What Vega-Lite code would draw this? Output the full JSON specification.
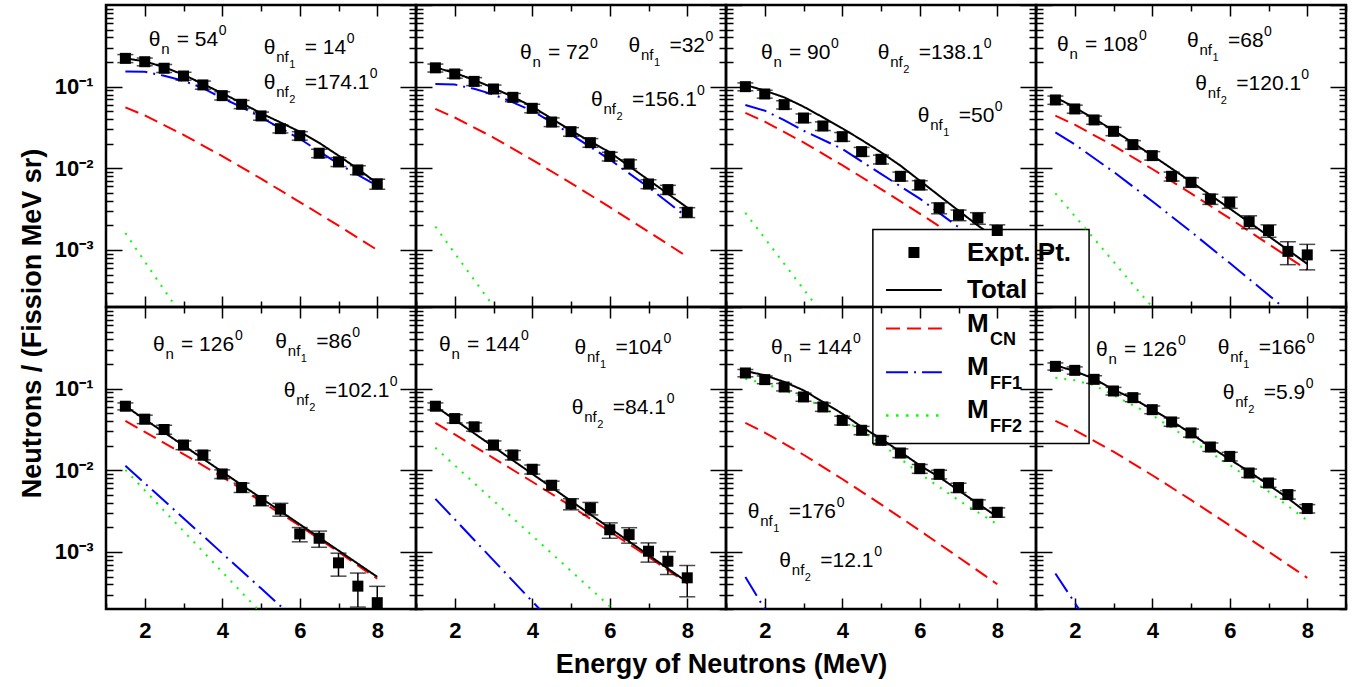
{
"$schema":"https://vega.github.io/schema/vega-lite/v6.json",
"background":"white",
"padding":{"left":16,"top":3,"right":5,"bottom":5},
"config":{
 "view":{"stroke":"black","strokeWidth":2.5},
 "text":{"font":"Liberation Sans","fontSize":21,"align":"left","baseline":"alphabetic","color":"black"},
 "axis":{"domain":false,"grid":false,"labelColor":"black","labelFont":"Liberation Sans","labelFontWeight":"bold","titleFont":"Liberation Sans","titleFontWeight":"bold","titleFontSize":27,"titleColor":"black","labelOverlap":false,"labelBound":false,"labelFlush":false}
},
"datasets":{
"pts":[
{"p":1,"E":1.5,"v":0.222,"e":0.025},{"p":1,"E":2,"v":0.202,"e":0.022},{"p":1,"E":2.5,"v":0.168,"e":0.019},{"p":1,"E":3,"v":0.135,"e":0.015},{"p":1,"E":3.5,"v":0.105,"e":0.012},{"p":1,"E":4,"v":0.0776,"e":0.009},{"p":1,"E":4.5,"v":0.0608,"e":0.007},{"p":1,"E":5,"v":0.0438,"e":0.005},{"p":1,"E":5.5,"v":0.0306,"e":0.0035},{"p":1,"E":6,"v":0.0251,"e":0.003},{"p":1,"E":6.5,"v":0.0153,"e":0.0018},{"p":1,"E":7,"v":0.012,"e":0.0015},{"p":1,"E":7.5,"v":0.00955,"e":0.0012},{"p":1,"E":8,"v":0.00644,"e":0.0009},
{"p":2,"E":1.5,"v":0.17,"e":0.019},{"p":2,"E":2,"v":0.143,"e":0.016},{"p":2,"E":2.5,"v":0.116,"e":0.013},{"p":2,"E":3,"v":0.0936,"e":0.011},{"p":2,"E":3.5,"v":0.074,"e":0.0085},{"p":2,"E":4,"v":0.0543,"e":0.0065},{"p":2,"E":4.5,"v":0.0369,"e":0.0045},{"p":2,"E":5,"v":0.0281,"e":0.0034},{"p":2,"E":5.5,"v":0.0206,"e":0.0025},{"p":2,"E":6,"v":0.014,"e":0.0017},{"p":2,"E":6.5,"v":0.0113,"e":0.0014},{"p":2,"E":7,"v":0.00643,"e":0.0008},{"p":2,"E":7.5,"v":0.00548,"e":0.0007},{"p":2,"E":8,"v":0.00289,"e":0.0004},
{"p":3,"E":1.5,"v":0.1,"e":0.011},{"p":3,"E":2,"v":0.0813,"e":0.009},{"p":3,"E":2.5,"v":0.0602,"e":0.007},{"p":3,"E":3,"v":0.0413,"e":0.005},{"p":3,"E":3.5,"v":0.033,"e":0.004},{"p":3,"E":4,"v":0.0244,"e":0.003},{"p":3,"E":4.5,"v":0.016,"e":0.002},{"p":3,"E":5,"v":0.0129,"e":0.0016},{"p":3,"E":5.5,"v":0.00798,"e":0.001},{"p":3,"E":6,"v":0.00625,"e":0.0008},{"p":3,"E":6.5,"v":0.00327,"e":0.0005},{"p":3,"E":7,"v":0.00268,"e":0.0004},{"p":3,"E":7.5,"v":0.00246,"e":0.0004},{"p":3,"E":8,"v":0.00173,"e":0.0003},
{"p":4,"E":1.5,"v":0.0687,"e":0.008},{"p":4,"E":2,"v":0.0533,"e":0.006},{"p":4,"E":2.5,"v":0.0391,"e":0.0045},{"p":4,"E":3,"v":0.0284,"e":0.0033},{"p":4,"E":3.5,"v":0.0195,"e":0.0023},{"p":4,"E":4,"v":0.0143,"e":0.0017},{"p":4,"E":4.5,"v":0.00798,"e":0.001},{"p":4,"E":5,"v":0.00674,"e":0.0009},{"p":4,"E":5.5,"v":0.00421,"e":0.0006},{"p":4,"E":6,"v":0.00383,"e":0.0006},{"p":4,"E":6.5,"v":0.00222,"e":0.0004},{"p":4,"E":7,"v":0.00173,"e":0.0003},{"p":4,"E":7.5,"v":0.00096,"e":0.0003},{"p":4,"E":8,"v":0.00087,"e":0.0003},
{"p":5,"E":1.5,"v":0.0609,"e":0.006},{"p":5,"E":2,"v":0.0423,"e":0.005},{"p":5,"E":2.5,"v":0.0316,"e":0.004},{"p":5,"E":3,"v":0.0204,"e":0.0025},{"p":5,"E":3.5,"v":0.0154,"e":0.002},{"p":5,"E":4,"v":0.00902,"e":0.0011},{"p":5,"E":4.5,"v":0.00615,"e":0.0008},{"p":5,"E":5,"v":0.00427,"e":0.0006},{"p":5,"E":5.5,"v":0.00334,"e":0.0006},{"p":5,"E":6,"v":0.00166,"e":0.00033},{"p":5,"E":6.5,"v":0.00147,"e":0.00033},{"p":5,"E":7,"v":0.000735,"e":0.00023},{"p":5,"E":7.5,"v":0.000381,"e":0.00017},{"p":5,"E":8,"v":0.000239,"e":0.00014},
{"p":6,"E":1.5,"v":0.0609,"e":0.006},{"p":6,"E":2,"v":0.043,"e":0.005},{"p":6,"E":2.5,"v":0.0341,"e":0.004},{"p":6,"E":3,"v":0.0204,"e":0.0025},{"p":6,"E":3.5,"v":0.0154,"e":0.002},{"p":6,"E":4,"v":0.0103,"e":0.0013},{"p":6,"E":4.5,"v":0.00656,"e":0.0008},{"p":6,"E":5,"v":0.00388,"e":0.0006},{"p":6,"E":5.5,"v":0.00344,"e":0.0006},{"p":6,"E":6,"v":0.00187,"e":0.0004},{"p":6,"E":6.5,"v":0.00163,"e":0.00035},{"p":6,"E":7,"v":0.00102,"e":0.00027},{"p":6,"E":7.5,"v":0.000769,"e":0.00024},{"p":6,"E":8,"v":0.000482,"e":0.0002},
{"p":7,"E":1.5,"v":0.1556,"e":0.016},{"p":7,"E":2,"v":0.129,"e":0.014},{"p":7,"E":2.5,"v":0.1048,"e":0.011},{"p":7,"E":3,"v":0.0791,"e":0.009},{"p":7,"E":3.5,"v":0.0597,"e":0.007},{"p":7,"E":4,"v":0.0409,"e":0.005},{"p":7,"E":4.5,"v":0.0309,"e":0.0036},{"p":7,"E":5,"v":0.0233,"e":0.0027},{"p":7,"E":5.5,"v":0.0163,"e":0.002},{"p":7,"E":6,"v":0.01048,"e":0.0013},{"p":7,"E":6.5,"v":0.00893,"e":0.0011},{"p":7,"E":7,"v":0.00614,"e":0.0008},{"p":7,"E":7.5,"v":0.00384,"e":0.0005},{"p":7,"E":8,"v":0.00306,"e":0.0004},
{"p":8,"E":1.5,"v":0.1875,"e":0.019},{"p":8,"E":2,"v":0.1675,"e":0.017},{"p":8,"E":2.5,"v":0.13,"e":0.014},{"p":8,"E":3,"v":0.0936,"e":0.01},{"p":8,"E":3.5,"v":0.0776,"e":0.0085},{"p":8,"E":4,"v":0.0553,"e":0.006},{"p":8,"E":4.5,"v":0.0391,"e":0.0045},{"p":8,"E":5,"v":0.0287,"e":0.0033},{"p":8,"E":5.5,"v":0.0193,"e":0.0023},{"p":8,"E":6,"v":0.0148,"e":0.0018},{"p":8,"E":6.5,"v":0.00927,"e":0.0011},{"p":8,"E":7,"v":0.00699,"e":0.0008},{"p":8,"E":7.5,"v":0.00504,"e":0.0006},{"p":8,"E":8,"v":0.0034,"e":0.0004}
],
"cur":[
{"p":1,"c":"F2","E":1.5,"v":0.00161},{"p":1,"c":"F2","E":2,"v":0.00072},{"p":1,"c":"F2","E":2.5,"v":0.000325},{"p":1,"c":"F2","E":3,"v":0.000147},
{"p":1,"c":"F1","E":1.5,"v":0.153},{"p":1,"c":"F1","E":2,"v":0.152},{"p":1,"c":"F1","E":2.5,"v":0.136},{"p":1,"c":"F1","E":3,"v":0.118},{"p":1,"c":"F1","E":3.5,"v":0.096},{"p":1,"c":"F1","E":4,"v":0.0725},{"p":1,"c":"F1","E":4.5,"v":0.056},{"p":1,"c":"F1","E":5,"v":0.0421},{"p":1,"c":"F1","E":6,"v":0.023},{"p":1,"c":"F1","E":7,"v":0.0113},{"p":1,"c":"F1","E":8,"v":0.0061},
{"p":1,"c":"CN","E":1.5,"v":0.0558},{"p":1,"c":"CN","E":2,"v":0.0444},{"p":1,"c":"CN","E":3,"v":0.0257},{"p":1,"c":"CN","E":4,"v":0.0141},{"p":1,"c":"CN","E":5,"v":0.00745},{"p":1,"c":"CN","E":6,"v":0.00386},{"p":1,"c":"CN","E":7,"v":0.00198},{"p":1,"c":"CN","E":8,"v":0.001},
{"p":1,"c":"T","E":1.5,"v":0.222},{"p":1,"c":"T","E":2,"v":0.204},{"p":1,"c":"T","E":2.5,"v":0.173},{"p":1,"c":"T","E":3,"v":0.14},{"p":1,"c":"T","E":3.5,"v":0.108},{"p":1,"c":"T","E":4,"v":0.083},{"p":1,"c":"T","E":4.5,"v":0.063},{"p":1,"c":"T","E":5,"v":0.0472},{"p":1,"c":"T","E":5.5,"v":0.0365},{"p":1,"c":"T","E":6,"v":0.0281},{"p":1,"c":"T","E":6.5,"v":0.0205},{"p":1,"c":"T","E":7,"v":0.0143},{"p":1,"c":"T","E":7.5,"v":0.0098},{"p":1,"c":"T","E":8,"v":0.00655},
{"p":2,"c":"F2","E":1.5,"v":0.00193},{"p":2,"c":"F2","E":2,"v":0.00091},{"p":2,"c":"F2","E":2.5,"v":0.00043},{"p":2,"c":"F2","E":3,"v":0.000204},{"p":2,"c":"F2","E":3.5,"v":0.0000955},
{"p":2,"c":"F1","E":1.5,"v":0.108},{"p":2,"c":"F1","E":2,"v":0.106},{"p":2,"c":"F1","E":2.5,"v":0.094},{"p":2,"c":"F1","E":3,"v":0.08},{"p":2,"c":"F1","E":3.5,"v":0.0643},{"p":2,"c":"F1","E":4,"v":0.0505},{"p":2,"c":"F1","E":4.5,"v":0.0366},{"p":2,"c":"F1","E":5,"v":0.026},{"p":2,"c":"F1","E":6,"v":0.0128},{"p":2,"c":"F1","E":7,"v":0.00585},{"p":2,"c":"F1","E":8,"v":0.00251},
{"p":2,"c":"CN","E":1.5,"v":0.0533},{"p":2,"c":"CN","E":2,"v":0.0419},{"p":2,"c":"CN","E":3,"v":0.0238},{"p":2,"c":"CN","E":4,"v":0.0127},{"p":2,"c":"CN","E":5,"v":0.00659},{"p":2,"c":"CN","E":6,"v":0.00334},{"p":2,"c":"CN","E":7,"v":0.00167},{"p":2,"c":"CN","E":8,"v":0.000828},
{"p":2,"c":"T","E":1.5,"v":0.172},{"p":2,"c":"T","E":2,"v":0.147},{"p":2,"c":"T","E":2.5,"v":0.121},{"p":2,"c":"T","E":3,"v":0.096},{"p":2,"c":"T","E":3.5,"v":0.075},{"p":2,"c":"T","E":4,"v":0.0569},{"p":2,"c":"T","E":5,"v":0.029},{"p":2,"c":"T","E":6,"v":0.0157},{"p":2,"c":"T","E":7,"v":0.0072},{"p":2,"c":"T","E":8,"v":0.0033},
{"p":3,"c":"F2","E":1.5,"v":0.00284},{"p":3,"c":"F2","E":2,"v":0.00139},{"p":3,"c":"F2","E":2.5,"v":0.000678},{"p":3,"c":"F2","E":3,"v":0.000331},{"p":3,"c":"F2","E":3.5,"v":0.000162},
{"p":3,"c":"F1","E":1.5,"v":0.0597},{"p":3,"c":"F1","E":2,"v":0.0508},{"p":3,"c":"F1","E":2.5,"v":0.039},{"p":3,"c":"F1","E":3,"v":0.0289},{"p":3,"c":"F1","E":4,"v":0.0173},{"p":3,"c":"F1","E":5,"v":0.00853},{"p":3,"c":"F1","E":6,"v":0.00425},{"p":3,"c":"F1","E":7,"v":0.0019},{"p":3,"c":"F1","E":8,"v":0.00085},
{"p":3,"c":"CN","E":1.5,"v":0.0477},{"p":3,"c":"CN","E":2,"v":0.0372},{"p":3,"c":"CN","E":3,"v":0.0208},{"p":3,"c":"CN","E":4,"v":0.0109},{"p":3,"c":"CN","E":5,"v":0.00557},{"p":3,"c":"CN","E":6,"v":0.00279},{"p":3,"c":"CN","E":7,"v":0.00137},{"p":3,"c":"CN","E":8,"v":0.00067},
{"p":3,"c":"T","E":1.5,"v":0.105},{"p":3,"c":"T","E":2,"v":0.0894},{"p":3,"c":"T","E":2.5,"v":0.074},{"p":3,"c":"T","E":3,"v":0.0569},{"p":3,"c":"T","E":3.5,"v":0.0421},{"p":3,"c":"T","E":4,"v":0.0309},{"p":3,"c":"T","E":4.5,"v":0.0222},{"p":3,"c":"T","E":5,"v":0.0157},{"p":3,"c":"T","E":5.5,"v":0.0108},{"p":3,"c":"T","E":6,"v":0.00706},{"p":3,"c":"T","E":6.5,"v":0.00462},{"p":3,"c":"T","E":7,"v":0.00303},{"p":3,"c":"T","E":7.5,"v":0.00199},{"p":3,"c":"T","E":8,"v":0.00136},
{"p":4,"c":"F2","E":1.5,"v":0.00494},{"p":4,"c":"F2","E":2,"v":0.0026},{"p":4,"c":"F2","E":2.5,"v":0.00137},{"p":4,"c":"F2","E":3,"v":0.000718},{"p":4,"c":"F2","E":3.5,"v":0.000377},{"p":4,"c":"F2","E":4,"v":0.0002},{"p":4,"c":"F2","E":4.5,"v":0.000105},
{"p":4,"c":"F1","E":1.5,"v":0.0276},{"p":4,"c":"F1","E":2,"v":0.0196},{"p":4,"c":"F1","E":3,"v":0.00906},{"p":4,"c":"F1","E":4,"v":0.00395},{"p":4,"c":"F1","E":5,"v":0.00167},{"p":4,"c":"F1","E":6,"v":0.00069},{"p":4,"c":"F1","E":7,"v":0.000281},{"p":4,"c":"F1","E":8,"v":0.000113},
{"p":4,"c":"CN","E":1.5,"v":0.0442},{"p":4,"c":"CN","E":2,"v":0.0342},{"p":4,"c":"CN","E":3,"v":0.0189},{"p":4,"c":"CN","E":4,"v":0.0098},{"p":4,"c":"CN","E":5,"v":0.00493},{"p":4,"c":"CN","E":6,"v":0.00243},{"p":4,"c":"CN","E":7,"v":0.00118},{"p":4,"c":"CN","E":8,"v":0.000569},
{"p":4,"c":"T","E":1.5,"v":0.074},{"p":4,"c":"T","E":2,"v":0.0558},{"p":4,"c":"T","E":3,"v":0.0292},{"p":4,"c":"T","E":4,"v":0.01437},{"p":4,"c":"T","E":5,"v":0.00686},{"p":4,"c":"T","E":6,"v":0.00321},{"p":4,"c":"T","E":7,"v":0.00148},{"p":4,"c":"T","E":8,"v":0.000675},
{"p":5,"c":"F2","E":1.5,"v":0.0101},{"p":5,"c":"F2","E":2,"v":0.00568},{"p":5,"c":"F2","E":3,"v":0.0018},{"p":5,"c":"F2","E":4,"v":0.000569},{"p":5,"c":"F2","E":5,"v":0.00018},
{"p":5,"c":"F1","E":1.5,"v":0.0114},{"p":5,"c":"F1","E":2,"v":0.00695},{"p":5,"c":"F1","E":3,"v":0.00259},{"p":5,"c":"F1","E":4,"v":0.000962},{"p":5,"c":"F1","E":5,"v":0.000358},{"p":5,"c":"F1","E":6,"v":0.000133},
{"p":5,"c":"CN","E":1.5,"v":0.0404},{"p":5,"c":"CN","E":2,"v":0.0295},{"p":5,"c":"CN","E":3,"v":0.0158},{"p":5,"c":"CN","E":4,"v":0.00832},{"p":5,"c":"CN","E":5,"v":0.00417},{"p":5,"c":"CN","E":6,"v":0.00209},{"p":5,"c":"CN","E":7,"v":0.001},{"p":5,"c":"CN","E":8,"v":0.000469},
{"p":5,"c":"T","E":1.5,"v":0.0609},{"p":5,"c":"T","E":2,"v":0.0421},{"p":5,"c":"T","E":3,"v":0.0201},{"p":5,"c":"T","E":4,"v":0.00957},{"p":5,"c":"T","E":5,"v":0.00457},{"p":5,"c":"T","E":6,"v":0.00218},{"p":5,"c":"T","E":7,"v":0.00104},{"p":5,"c":"T","E":8,"v":0.000495},
{"p":6,"c":"F2","E":1.5,"v":0.0189},{"p":6,"c":"F2","E":2,"v":0.0115},{"p":6,"c":"F2","E":3,"v":0.00425},{"p":6,"c":"F2","E":4,"v":0.00158},{"p":6,"c":"F2","E":5,"v":0.000584},{"p":6,"c":"F2","E":6,"v":0.000216},{"p":6,"c":"F2","E":6.5,"v":0.000132},
{"p":6,"c":"F1","E":1.5,"v":0.00447},{"p":6,"c":"F1","E":2,"v":0.00251},{"p":6,"c":"F1","E":3,"v":0.000789},{"p":6,"c":"F1","E":4,"v":0.000248},{"p":6,"c":"F1","E":4.5,"v":0.000139},
{"p":6,"c":"CN","E":1.5,"v":0.0381},{"p":6,"c":"CN","E":2,"v":0.0275},{"p":6,"c":"CN","E":3,"v":0.0141},{"p":6,"c":"CN","E":4,"v":0.00724},{"p":6,"c":"CN","E":5,"v":0.00363},{"p":6,"c":"CN","E":6,"v":0.00178},{"p":6,"c":"CN","E":7,"v":0.00087},{"p":6,"c":"CN","E":8,"v":0.000411},
{"p":6,"c":"T","E":1.5,"v":0.0609},{"p":6,"c":"T","E":2,"v":0.0416},{"p":6,"c":"T","E":3,"v":0.0194},{"p":6,"c":"T","E":4,"v":0.00904},{"p":6,"c":"T","E":5,"v":0.00421},{"p":6,"c":"T","E":6,"v":0.00196},{"p":6,"c":"T","E":7,"v":0.000916},{"p":6,"c":"T","E":8,"v":0.000427},
{"p":7,"c":"F1","E":1.5,"v":0.000494},{"p":7,"c":"F1","E":2,"v":0.0002},{"p":7,"c":"F1","E":2.5,"v":0.000081},
{"p":7,"c":"CN","E":1.5,"v":0.038},{"p":7,"c":"CN","E":2,"v":0.029},{"p":7,"c":"CN","E":3,"v":0.0155},{"p":7,"c":"CN","E":4,"v":0.00782},{"p":7,"c":"CN","E":5,"v":0.00382},{"p":7,"c":"CN","E":6,"v":0.00183},{"p":7,"c":"CN","E":7,"v":0.000861},{"p":7,"c":"CN","E":8,"v":0.000402},
{"p":7,"c":"F2","E":1.5,"v":0.132},{"p":7,"c":"F2","E":2,"v":0.115},{"p":7,"c":"F2","E":3,"v":0.079},{"p":7,"c":"F2","E":4,"v":0.043},{"p":7,"c":"F2","E":5,"v":0.0212},{"p":7,"c":"F2","E":6,"v":0.0091},{"p":7,"c":"F2","E":7,"v":0.0043},{"p":7,"c":"F2","E":8,"v":0.00218},
{"p":7,"c":"T","E":1.5,"v":0.164},{"p":7,"c":"T","E":2,"v":0.146},{"p":7,"c":"T","E":2.5,"v":0.121},{"p":7,"c":"T","E":3,"v":0.0955},{"p":7,"c":"T","E":3.5,"v":0.0687},{"p":7,"c":"T","E":4,"v":0.0494},{"p":7,"c":"T","E":4.5,"v":0.034},{"p":7,"c":"T","E":5,"v":0.0244},{"p":7,"c":"T","E":5.5,"v":0.0168},{"p":7,"c":"T","E":6,"v":0.0115},{"p":7,"c":"T","E":6.5,"v":0.00828},{"p":7,"c":"T","E":7,"v":0.00569},{"p":7,"c":"T","E":7.5,"v":0.00391},{"p":7,"c":"T","E":8,"v":0.00269},
{"p":8,"c":"F1","E":1.5,"v":0.000544},{"p":8,"c":"F1","E":2,"v":0.000238},{"p":8,"c":"F1","E":2.5,"v":0.000105},
{"p":8,"c":"CN","E":1.5,"v":0.0404},{"p":8,"c":"CN","E":2,"v":0.0311},{"p":8,"c":"CN","E":3,"v":0.0169},{"p":8,"c":"CN","E":4,"v":0.0087},{"p":8,"c":"CN","E":5,"v":0.00433},{"p":8,"c":"CN","E":6,"v":0.00211},{"p":8,"c":"CN","E":7,"v":0.00101},{"p":8,"c":"CN","E":8,"v":0.000482},
{"p":8,"c":"F2","E":1.5,"v":0.136},{"p":8,"c":"F2","E":2,"v":0.1264},{"p":8,"c":"F2","E":2.5,"v":0.11},{"p":8,"c":"F2","E":3,"v":0.083},{"p":8,"c":"F2","E":4,"v":0.0473},{"p":8,"c":"F2","E":5,"v":0.0234},{"p":8,"c":"F2","E":6,"v":0.0116},{"p":8,"c":"F2","E":7,"v":0.0055},{"p":8,"c":"F2","E":8,"v":0.00243},
{"p":8,"c":"T","E":1.5,"v":0.193},{"p":8,"c":"T","E":2,"v":0.164},{"p":8,"c":"T","E":2.5,"v":0.132},{"p":8,"c":"T","E":3,"v":0.0973},{"p":8,"c":"T","E":3.5,"v":0.0755},{"p":8,"c":"T","E":4,"v":0.0554},{"p":8,"c":"T","E":4.5,"v":0.0403},{"p":8,"c":"T","E":5,"v":0.0282},{"p":8,"c":"T","E":5.5,"v":0.0194},{"p":8,"c":"T","E":6,"v":0.0136},{"p":8,"c":"T","E":6.5,"v":0.00964},{"p":8,"c":"T","E":7,"v":0.00662},{"p":8,"c":"T","E":7.5,"v":0.00456},{"p":8,"c":"T","E":8,"v":0.00299}
]},
"columns":4,"spacing":0,"bounds":"flush",
"concat":[
{"width":310,"height":302,"resolve":{"axis":{"x":"independent","y":"independent"}},"layer":[
 {"data":{"name":"cur"},"transform":[{"filter":"datum.p==1"}],"mark":{"type":"line","strokeWidth":2,"clip":true},
  "encoding":{"x":{"field":"E","type":"quantitative","scale":{"domain":[1,9],"nice":false,"zero":false},"axis":{"tickColor":"black","tickOpacity":1,"tickWidth":1.5,"values":[1,2,3,4,5,6,7,8,9],"tickSize":{"condition":{"test":"datum.value%2==0","value":-11},"value":-6},"labels":false,"title":null}},
   "y":{"field":"v","type":"quantitative","scale":{"type":"log","domain":[0.0002,1],"nice":false},"axis":{"tickColor":"black","tickOpacity":1,"tickWidth":1.5,"values":[0.0003,0.0004,0.0005,0.0006,0.0007,0.0008,0.0009,0.001,0.002,0.003,0.004,0.005,0.006,0.007,0.008,0.009,0.01,0.02,0.03,0.04,0.05,0.06,0.07,0.08,0.09,0.1,0.2,0.3,0.4,0.5,0.6,0.7,0.8,0.9],"tickSize":{"condition":{"test":"datum.value==0.001||datum.value==0.01||datum.value==0.1||datum.value==1","value":-16},"value":-7},"labelExpr":"datum.value==0.1?'10⁻¹':datum.value==0.01?'10⁻²':datum.value==0.001?'10⁻³':''","labelPadding":29,"labelFontSize":{"condition":{"test":"datum.value==0.001||datum.value==0.01||datum.value==0.1","value":22},"value":0},"title":"Neutrons / (Fission MeV sr)","titleX":-74,"titleY":318,"titleAngle":-90,"titleAlign":"center","titleBaseline":"middle"}},
   "color":{"field":"c","type":"nominal","scale":{"domain":["F2","F1","CN","T"],"range":["#00ff00","#0000ff","#ff0000","#000000"]},"legend":null},
   "strokeDash":{"field":"c","type":"nominal","scale":{"domain":["F2","F1","CN","T"],"range":[[2,7],[22,6,2,6],[14,7],[1,0]]},"legend":null}}},
 {"data":{"name":"pts"},"transform":[{"filter":"datum.p==1"}],"mark":{"type":"errorbar","color":"black","ticks":true,"size":16,"thickness":1.5},
  "encoding":{"x":{"field":"E","type":"quantitative","axis":null},"y":{"field":"v","type":"quantitative","axis":null},"yError":{"field":"e"}}},
 {"data":{"values":[{}]},"layer":[
  {"encoding":{"x":{"datum":2.1,"axis":null},"y":{"datum":0.318,"axis":null}},"layer":[{"mark":{"type":"text","text":"θ"}},{"mark":{"type":"text","text":"n","fontSize":15,"dx":12.5,"dy":8}},{"mark":{"type":"text","text":"= 54","dx":28}},{"mark":{"type":"text","text":"0","fontSize":14,"dx":70,"dy":-11}}]},
  {"encoding":{"x":{"datum":5.07,"axis":null},"y":{"datum":0.251,"axis":null}},"layer":[{"mark":{"type":"text","text":"θ"}},{"mark":{"type":"text","text":"nf","fontSize":15,"dx":12.5,"dy":8}},{"mark":{"type":"text","text":"1","fontSize":11,"dx":25.5,"dy":14}},{"mark":{"type":"text","text":"= 14","dx":41}},{"mark":{"type":"text","text":"0","fontSize":14,"dx":83,"dy":-11}}]},
  {"encoding":{"x":{"datum":5.07,"axis":null},"y":{"datum":0.0937,"axis":null}},"layer":[{"mark":{"type":"text","text":"θ"}},{"mark":{"type":"text","text":"nf","fontSize":15,"dx":12.5,"dy":8}},{"mark":{"type":"text","text":"2","fontSize":11,"dx":25.5,"dy":14}},{"mark":{"type":"text","text":"=174.1","dx":41}},{"mark":{"type":"text","text":"0","fontSize":14,"dx":106,"dy":-11}}]}
 ]},
 {"data":{"name":"pts"},"transform":[{"filter":"datum.p==1"}],"mark":{"type":"point","shape":"square","filled":true,"color":"black","size":121,"opacity":1},
  "encoding":{"x":{"field":"E","type":"quantitative","axis":{"tickColor":"black","tickOpacity":1,"tickWidth":1.5,"orient":"top","values":[1,2,3,4,5,6,7,8,9],"tickSize":{"condition":{"test":"datum.value%2==0","value":-11},"value":-6},"labels":false,"title":null}},
   "y":{"field":"v","type":"quantitative","axis":{"tickColor":"black","tickOpacity":1,"tickWidth":1.5,"orient":"right","values":[0.0002,0.0003,0.0004,0.0005,0.0006,0.0007,0.0008,0.0009,0.001,0.002,0.003,0.004,0.005,0.006,0.007,0.008,0.009,0.01,0.02,0.03,0.04,0.05,0.06,0.07,0.08,0.09,0.1,0.2,0.3,0.4,0.5,0.6,0.7,0.8,0.9,1],"tickSize":{"condition":{"test":"datum.value==0.001||datum.value==0.01||datum.value==0.1||datum.value==1","value":-16},"value":-7},"labels":false,"title":null}}}}
]},
{"width":310,"height":302,"resolve":{"axis":{"x":"independent","y":"independent"}},"layer":[
 {"data":{"name":"cur"},"transform":[{"filter":"datum.p==2"}],"mark":{"type":"line","strokeWidth":2,"clip":true},
  "encoding":{"x":{"field":"E","type":"quantitative","scale":{"domain":[1,9],"nice":false,"zero":false},"axis":{"tickColor":"black","tickOpacity":1,"tickWidth":1.5,"values":[1,2,3,4,5,6,7,8,9],"tickSize":{"condition":{"test":"datum.value%2==0","value":-11},"value":-6},"labels":false,"title":null}},
   "y":{"field":"v","type":"quantitative","scale":{"type":"log","domain":[0.0002,1],"nice":false},"axis":{"tickColor":"black","tickOpacity":1,"tickWidth":1.5,"values":[0.0002,0.0003,0.0004,0.0005,0.0006,0.0007,0.0008,0.0009,0.001,0.002,0.003,0.004,0.005,0.006,0.007,0.008,0.009,0.01,0.02,0.03,0.04,0.05,0.06,0.07,0.08,0.09,0.1,0.2,0.3,0.4,0.5,0.6,0.7,0.8,0.9,1],"tickSize":{"condition":{"test":"datum.value==0.001||datum.value==0.01||datum.value==0.1||datum.value==1","value":-16},"value":-7},"labels":false,"title":null}},
   "color":{"field":"c","type":"nominal","scale":{"domain":["F2","F1","CN","T"],"range":["#00ff00","#0000ff","#ff0000","#000000"]},"legend":null},
   "strokeDash":{"field":"c","type":"nominal","scale":{"domain":["F2","F1","CN","T"],"range":[[2,7],[22,6,2,6],[14,7],[1,0]]},"legend":null}}},
 {"data":{"name":"pts"},"transform":[{"filter":"datum.p==2"}],"mark":{"type":"errorbar","color":"black","ticks":true,"size":16,"thickness":1.5},
  "encoding":{"x":{"field":"E","type":"quantitative","axis":null},"y":{"field":"v","type":"quantitative","axis":null},"yError":{"field":"e"}}},
 {"data":{"values":[{}]},"layer":[
  {"encoding":{"x":{"datum":3.684,"axis":null},"y":{"datum":0.218,"axis":null}},"layer":[{"mark":{"type":"text","text":"θ"}},{"mark":{"type":"text","text":"n","fontSize":15,"dx":12.5,"dy":8}},{"mark":{"type":"text","text":"= 72","dx":28}},{"mark":{"type":"text","text":"0","fontSize":14,"dx":70,"dy":-11}}]},
  {"encoding":{"x":{"datum":6.481,"axis":null},"y":{"datum":0.263,"axis":null}},"layer":[{"mark":{"type":"text","text":"θ"}},{"mark":{"type":"text","text":"nf","fontSize":15,"dx":12.5,"dy":8}},{"mark":{"type":"text","text":"1","fontSize":11,"dx":25.5,"dy":14}},{"mark":{"type":"text","text":"=32","dx":41}},{"mark":{"type":"text","text":"0","fontSize":14,"dx":77,"dy":-11}}]},
  {"encoding":{"x":{"datum":5.516,"axis":null},"y":{"datum":0.0585,"axis":null}},"layer":[{"mark":{"type":"text","text":"θ"}},{"mark":{"type":"text","text":"nf","fontSize":15,"dx":12.5,"dy":8}},{"mark":{"type":"text","text":"2","fontSize":11,"dx":25.5,"dy":14}},{"mark":{"type":"text","text":"=156.1","dx":41}},{"mark":{"type":"text","text":"0","fontSize":14,"dx":106,"dy":-11}}]}
 ]},
 {"data":{"name":"pts"},"transform":[{"filter":"datum.p==2"}],"mark":{"type":"point","shape":"square","filled":true,"color":"black","size":121,"opacity":1},
  "encoding":{"x":{"field":"E","type":"quantitative","axis":{"tickColor":"black","tickOpacity":1,"tickWidth":1.5,"orient":"top","values":[1,2,3,4,5,6,7,8,9],"tickSize":{"condition":{"test":"datum.value%2==0","value":-11},"value":-6},"labels":false,"title":null}},
   "y":{"field":"v","type":"quantitative","axis":{"tickColor":"black","tickOpacity":1,"tickWidth":1.5,"orient":"right","values":[0.0002,0.0003,0.0004,0.0005,0.0006,0.0007,0.0008,0.0009,0.001,0.002,0.003,0.004,0.005,0.006,0.007,0.008,0.009,0.01,0.02,0.03,0.04,0.05,0.06,0.07,0.08,0.09,0.1,0.2,0.3,0.4,0.5,0.6,0.7,0.8,0.9,1],"tickSize":{"condition":{"test":"datum.value==0.001||datum.value==0.01||datum.value==0.1||datum.value==1","value":-16},"value":-7},"labels":false,"title":null}}}}
]},
{"width":310,"height":302,"resolve":{"axis":{"x":"independent","y":"independent"}},"layer":[
 {"data":{"name":"cur"},"transform":[{"filter":"datum.p==3"}],"mark":{"type":"line","strokeWidth":2,"clip":true},
  "encoding":{"x":{"field":"E","type":"quantitative","scale":{"domain":[1,9],"nice":false,"zero":false},"axis":{"tickColor":"black","tickOpacity":1,"tickWidth":1.5,"values":[1,2,3,4,5,6,7,8,9],"tickSize":{"condition":{"test":"datum.value%2==0","value":-11},"value":-6},"labels":false,"title":null}},
   "y":{"field":"v","type":"quantitative","scale":{"type":"log","domain":[0.0002,1],"nice":false},"axis":{"tickColor":"black","tickOpacity":1,"tickWidth":1.5,"values":[0.0002,0.0003,0.0004,0.0005,0.0006,0.0007,0.0008,0.0009,0.001,0.002,0.003,0.004,0.005,0.006,0.007,0.008,0.009,0.01,0.02,0.03,0.04,0.05,0.06,0.07,0.08,0.09,0.1,0.2,0.3,0.4,0.5,0.6,0.7,0.8,0.9,1],"tickSize":{"condition":{"test":"datum.value==0.001||datum.value==0.01||datum.value==0.1||datum.value==1","value":-16},"value":-7},"labels":false,"title":null}},
   "color":{"field":"c","type":"nominal","scale":{"domain":["F2","F1","CN","T"],"range":["#00ff00","#0000ff","#ff0000","#000000"]},"legend":null},
   "strokeDash":{"field":"c","type":"nominal","scale":{"domain":["F2","F1","CN","T"],"range":[[2,7],[22,6,2,6],[14,7],[1,0]]},"legend":null}}},
 {"data":{"name":"pts"},"transform":[{"filter":"datum.p==3"}],"mark":{"type":"errorbar","color":"black","ticks":true,"size":16,"thickness":1.5},
  "encoding":{"x":{"field":"E","type":"quantitative","axis":null},"y":{"field":"v","type":"quantitative","axis":null},"yError":{"field":"e"}}},
 {"data":{"values":[{}]},"layer":[
  {"encoding":{"x":{"datum":1.903,"axis":null},"y":{"datum":0.218,"axis":null}},"layer":[{"mark":{"type":"text","text":"θ"}},{"mark":{"type":"text","text":"n","fontSize":15,"dx":12.5,"dy":8}},{"mark":{"type":"text","text":"= 90","dx":28}},{"mark":{"type":"text","text":"0","fontSize":14,"dx":70,"dy":-11}}]},
  {"encoding":{"x":{"datum":4.914,"axis":null},"y":{"datum":0.218,"axis":null}},"layer":[{"mark":{"type":"text","text":"θ"}},{"mark":{"type":"text","text":"nf","fontSize":15,"dx":12.5,"dy":8}},{"mark":{"type":"text","text":"2","fontSize":11,"dx":25.5,"dy":14}},{"mark":{"type":"text","text":"=138.1","dx":41}},{"mark":{"type":"text","text":"0","fontSize":14,"dx":106,"dy":-11}}]},
  {"encoding":{"x":{"datum":5.947,"axis":null},"y":{"datum":0.0366,"axis":null}},"layer":[{"mark":{"type":"text","text":"θ"}},{"mark":{"type":"text","text":"nf","fontSize":15,"dx":12.5,"dy":8}},{"mark":{"type":"text","text":"1","fontSize":11,"dx":25.5,"dy":14}},{"mark":{"type":"text","text":"=50","dx":41}},{"mark":{"type":"text","text":"0","fontSize":14,"dx":77,"dy":-11}}]},
  {"mark":{"type":"rect","fill":"white","stroke":"black","strokeWidth":1.5},"encoding":{"x":{"datum":4.79,"axis":null},"x2":{"datum":10.37},"y":{"datum":0.00178,"axis":null},"y2":{"datum":0.00000427}}},
  {"mark":{"type":"point","shape":"square","filled":true,"color":"black","size":121,"opacity":1},"encoding":{"x":{"datum":5.85,"axis":null},"y":{"datum":0.00093,"axis":null}}},
  {"encoding":{"x":{"datum":5.13,"axis":null},"x2":{"datum":6.57}},"layer":[
   {"mark":{"type":"rule","color":"black","strokeWidth":2},"encoding":{"y":{"datum":0.000323,"axis":null}}},
   {"mark":{"type":"rule","color":"#ff0000","strokeWidth":2,"strokeDash":[14,7]},"encoding":{"y":{"datum":0.000109,"axis":null}}},
   {"mark":{"type":"rule","color":"#0000ff","strokeWidth":2,"strokeDash":[22,6,2,6]},"encoding":{"y":{"datum":0.0000318,"axis":null}}},
   {"mark":{"type":"rule","color":"#00ff00","strokeWidth":2.5,"strokeDash":[2.5,7.5]},"encoding":{"y":{"datum":0.0000094,"axis":null}}}]},
  {"encoding":{"x":{"datum":7.22,"axis":null}},"layer":[
   {"mark":{"type":"text","text":"Expt. Pt.","fontSize":26,"fontWeight":"bold","baseline":"middle"},"encoding":{"y":{"datum":0.00093,"axis":null}}},
   {"mark":{"type":"text","text":"Total","fontSize":26,"fontWeight":"bold","baseline":"middle"},"encoding":{"y":{"datum":0.000323,"axis":null}}},
   {"mark":{"type":"text","text":"M","fontSize":26,"fontWeight":"bold","baseline":"middle","dy":-5},"encoding":{"y":{"datum":0.000109,"axis":null}}},
   {"mark":{"type":"text","text":"CN","fontSize":18,"fontWeight":"bold","baseline":"middle","dx":23,"dy":11},"encoding":{"y":{"datum":0.000109,"axis":null}}},
   {"mark":{"type":"text","text":"M","fontSize":26,"fontWeight":"bold","baseline":"middle","dy":-5},"encoding":{"y":{"datum":0.0000318,"axis":null}}},
   {"mark":{"type":"text","text":"FF1","fontSize":18,"fontWeight":"bold","baseline":"middle","dx":23,"dy":12},"encoding":{"y":{"datum":0.0000318,"axis":null}}},
   {"mark":{"type":"text","text":"M","fontSize":26,"fontWeight":"bold","baseline":"middle","dy":-5},"encoding":{"y":{"datum":0.0000094,"axis":null}}},
   {"mark":{"type":"text","text":"FF2","fontSize":18,"fontWeight":"bold","baseline":"middle","dx":23,"dy":12},"encoding":{"y":{"datum":0.0000094,"axis":null}}}]}
 ]},
 {"data":{"name":"pts"},"transform":[{"filter":"datum.p==3"}],"mark":{"type":"point","shape":"square","filled":true,"color":"black","size":121,"opacity":1},
  "encoding":{"x":{"field":"E","type":"quantitative","axis":{"tickColor":"black","tickOpacity":1,"tickWidth":1.5,"orient":"top","values":[1,2,3,4,5,6,7,8,9],"tickSize":{"condition":{"test":"datum.value%2==0","value":-11},"value":-6},"labels":false,"title":null}},
   "y":{"field":"v","type":"quantitative","axis":{"tickColor":"black","tickOpacity":1,"tickWidth":1.5,"orient":"right","values":[0.0002,0.0003,0.0004,0.0005,0.0006,0.0007,0.0008,0.0009,0.001,0.002,0.003,0.004,0.005,0.006,0.007,0.008,0.009,0.01,0.02,0.03,0.04,0.05,0.06,0.07,0.08,0.09,0.1,0.2,0.3,0.4,0.5,0.6,0.7,0.8,0.9,1],"tickSize":{"condition":{"test":"datum.value==0.001||datum.value==0.01||datum.value==0.1||datum.value==1","value":-16},"value":-7},"labels":false,"title":null}}}}
]},
{"width":310,"height":302,"resolve":{"axis":{"x":"independent","y":"independent"}},"layer":[
 {"data":{"name":"cur"},"transform":[{"filter":"datum.p==4"}],"mark":{"type":"line","strokeWidth":2,"clip":true},
  "encoding":{"x":{"field":"E","type":"quantitative","scale":{"domain":[1,9],"nice":false,"zero":false},"axis":{"tickColor":"black","tickOpacity":1,"tickWidth":1.5,"values":[1,2,3,4,5,6,7,8,9],"tickSize":{"condition":{"test":"datum.value%2==0","value":-11},"value":-6},"labels":false,"title":null}},
   "y":{"field":"v","type":"quantitative","scale":{"type":"log","domain":[0.0002,1],"nice":false},"axis":{"tickColor":"black","tickOpacity":1,"tickWidth":1.5,"values":[0.0002,0.0003,0.0004,0.0005,0.0006,0.0007,0.0008,0.0009,0.001,0.002,0.003,0.004,0.005,0.006,0.007,0.008,0.009,0.01,0.02,0.03,0.04,0.05,0.06,0.07,0.08,0.09,0.1,0.2,0.3,0.4,0.5,0.6,0.7,0.8,0.9,1],"tickSize":{"condition":{"test":"datum.value==0.001||datum.value==0.01||datum.value==0.1||datum.value==1","value":-16},"value":-7},"labels":false,"title":null}},
   "color":{"field":"c","type":"nominal","scale":{"domain":["F2","F1","CN","T"],"range":["#00ff00","#0000ff","#ff0000","#000000"]},"legend":null},
   "strokeDash":{"field":"c","type":"nominal","scale":{"domain":["F2","F1","CN","T"],"range":[[2,7],[22,6,2,6],[14,7],[1,0]]},"legend":null}}},
 {"data":{"name":"pts"},"transform":[{"filter":"datum.p==4"}],"mark":{"type":"errorbar","color":"black","ticks":true,"size":16,"thickness":1.5},
  "encoding":{"x":{"field":"E","type":"quantitative","axis":null},"y":{"field":"v","type":"quantitative","axis":null},"yError":{"field":"e"}}},
 {"data":{"values":[{}]},"layer":[
  {"encoding":{"x":{"datum":1.542,"axis":null},"y":{"datum":0.276,"axis":null}},"layer":[{"mark":{"type":"text","text":"θ"}},{"mark":{"type":"text","text":"n","fontSize":15,"dx":12.5,"dy":8}},{"mark":{"type":"text","text":"= 108","dx":28}},{"mark":{"type":"text","text":"0","fontSize":14,"dx":82,"dy":-11}}]},
  {"encoding":{"x":{"datum":4.897,"axis":null},"y":{"datum":0.303,"axis":null}},"layer":[{"mark":{"type":"text","text":"θ"}},{"mark":{"type":"text","text":"nf","fontSize":15,"dx":12.5,"dy":8}},{"mark":{"type":"text","text":"1","fontSize":11,"dx":25.5,"dy":14}},{"mark":{"type":"text","text":"=68","dx":41}},{"mark":{"type":"text","text":"0","fontSize":14,"dx":77,"dy":-11}}]},
  {"encoding":{"x":{"datum":5.112,"axis":null},"y":{"datum":0.0912,"axis":null}},"layer":[{"mark":{"type":"text","text":"θ"}},{"mark":{"type":"text","text":"nf","fontSize":15,"dx":12.5,"dy":8}},{"mark":{"type":"text","text":"2","fontSize":11,"dx":25.5,"dy":14}},{"mark":{"type":"text","text":"=120.1","dx":41}},{"mark":{"type":"text","text":"0","fontSize":14,"dx":106,"dy":-11}}]}
 ]},
 {"data":{"name":"pts"},"transform":[{"filter":"datum.p==4"}],"mark":{"type":"point","shape":"square","filled":true,"color":"black","size":121,"opacity":1},
  "encoding":{"x":{"field":"E","type":"quantitative","axis":{"tickColor":"black","tickOpacity":1,"tickWidth":1.5,"orient":"top","values":[1,2,3,4,5,6,7,8,9],"tickSize":{"condition":{"test":"datum.value%2==0","value":-11},"value":-6},"labels":false,"title":null}},
   "y":{"field":"v","type":"quantitative","axis":{"tickColor":"black","tickOpacity":1,"tickWidth":1.5,"orient":"right","values":[0.0002,0.0003,0.0004,0.0005,0.0006,0.0007,0.0008,0.0009,0.001,0.002,0.003,0.004,0.005,0.006,0.007,0.008,0.009,0.01,0.02,0.03,0.04,0.05,0.06,0.07,0.08,0.09,0.1,0.2,0.3,0.4,0.5,0.6,0.7,0.8,0.9,1],"tickSize":{"condition":{"test":"datum.value==0.001||datum.value==0.01||datum.value==0.1||datum.value==1","value":-16},"value":-7},"labels":false,"title":null}}}}
]},
{"width":310,"height":302,"resolve":{"axis":{"x":"independent","y":"independent"}},"layer":[
 {"data":{"name":"cur"},"transform":[{"filter":"datum.p==5"}],"mark":{"type":"line","strokeWidth":2,"clip":true},
  "encoding":{"x":{"field":"E","type":"quantitative","scale":{"domain":[1,9],"nice":false,"zero":false},"axis":{"tickColor":"black","tickOpacity":1,"tickWidth":1.5,"values":[1,2,3,4,5,6,7,8,9],"tickSize":{"condition":{"test":"datum.value%2==0","value":-11},"value":-6},"labelExpr":"datum.value%2==0?datum.label:''","labelFontSize":22,"labelPadding":22,"title":null}},
   "y":{"field":"v","type":"quantitative","scale":{"type":"log","domain":[0.0002,1],"nice":false},"axis":{"tickColor":"black","tickOpacity":1,"tickWidth":1.5,"values":[0.0003,0.0004,0.0005,0.0006,0.0007,0.0008,0.0009,0.001,0.002,0.003,0.004,0.005,0.006,0.007,0.008,0.009,0.01,0.02,0.03,0.04,0.05,0.06,0.07,0.08,0.09,0.1,0.2,0.3,0.4,0.5,0.6,0.7,0.8,0.9],"tickSize":{"condition":{"test":"datum.value==0.001||datum.value==0.01||datum.value==0.1||datum.value==1","value":-16},"value":-7},"labelExpr":"datum.value==0.1?'10⁻¹':datum.value==0.01?'10⁻²':datum.value==0.001?'10⁻³':''","labelPadding":29,"labelFontSize":{"condition":{"test":"datum.value==0.001||datum.value==0.01||datum.value==0.1","value":22},"value":0},"title":null}},
   "color":{"field":"c","type":"nominal","scale":{"domain":["F2","F1","CN","T"],"range":["#00ff00","#0000ff","#ff0000","#000000"]},"legend":null},
   "strokeDash":{"field":"c","type":"nominal","scale":{"domain":["F2","F1","CN","T"],"range":[[2,7],[22,6,2,6],[14,7],[1,0]]},"legend":null}}},
 {"data":{"name":"pts"},"transform":[{"filter":"datum.p==5"}],"mark":{"type":"errorbar","color":"black","ticks":true,"size":16,"thickness":1.5,"clip":true},
  "encoding":{"x":{"field":"E","type":"quantitative","axis":null},"y":{"field":"v","type":"quantitative","axis":null},"yError":{"field":"e"}}},
 {"data":{"values":[{}]},"layer":[
  {"encoding":{"x":{"datum":2.213,"axis":null},"y":{"datum":0.29,"axis":null}},"layer":[{"mark":{"type":"text","text":"θ"}},{"mark":{"type":"text","text":"n","fontSize":15,"dx":12.5,"dy":8}},{"mark":{"type":"text","text":"= 126","dx":28}},{"mark":{"type":"text","text":"0","fontSize":14,"dx":82,"dy":-11}}]},
  {"encoding":{"x":{"datum":5.37,"axis":null},"y":{"datum":0.319,"axis":null}},"layer":[{"mark":{"type":"text","text":"θ"}},{"mark":{"type":"text","text":"nf","fontSize":15,"dx":12.5,"dy":8}},{"mark":{"type":"text","text":"1","fontSize":11,"dx":25.5,"dy":14}},{"mark":{"type":"text","text":"=86","dx":41}},{"mark":{"type":"text","text":"0","fontSize":14,"dx":77,"dy":-11}}]},
  {"encoding":{"x":{"datum":5.585,"axis":null},"y":{"datum":0.0783,"axis":null}},"layer":[{"mark":{"type":"text","text":"θ"}},{"mark":{"type":"text","text":"nf","fontSize":15,"dx":12.5,"dy":8}},{"mark":{"type":"text","text":"2","fontSize":11,"dx":25.5,"dy":14}},{"mark":{"type":"text","text":"=102.1","dx":41}},{"mark":{"type":"text","text":"0","fontSize":14,"dx":106,"dy":-11}}]}
 ]},
 {"data":{"name":"pts"},"transform":[{"filter":"datum.p==5"}],"mark":{"type":"point","shape":"square","filled":true,"color":"black","size":121,"opacity":1},
  "encoding":{"x":{"field":"E","type":"quantitative","axis":{"tickColor":"black","tickOpacity":1,"tickWidth":1.5,"orient":"top","values":[1,2,3,4,5,6,7,8,9],"tickSize":{"condition":{"test":"datum.value%2==0","value":-11},"value":-6},"labels":false,"title":null}},
   "y":{"field":"v","type":"quantitative","axis":{"tickColor":"black","tickOpacity":1,"tickWidth":1.5,"orient":"right","values":[0.0002,0.0003,0.0004,0.0005,0.0006,0.0007,0.0008,0.0009,0.001,0.002,0.003,0.004,0.005,0.006,0.007,0.008,0.009,0.01,0.02,0.03,0.04,0.05,0.06,0.07,0.08,0.09,0.1,0.2,0.3,0.4,0.5,0.6,0.7,0.8,0.9,1],"tickSize":{"condition":{"test":"datum.value==0.001||datum.value==0.01||datum.value==0.1||datum.value==1","value":-16},"value":-7},"labels":false,"title":null}}}}
]},
{"width":310,"height":302,"resolve":{"axis":{"x":"independent","y":"independent"}},"layer":[
 {"data":{"name":"cur"},"transform":[{"filter":"datum.p==6"}],"mark":{"type":"line","strokeWidth":2,"clip":true},
  "encoding":{"x":{"field":"E","type":"quantitative","scale":{"domain":[1,9],"nice":false,"zero":false},"axis":{"tickColor":"black","tickOpacity":1,"tickWidth":1.5,"values":[1,2,3,4,5,6,7,8,9],"tickSize":{"condition":{"test":"datum.value%2==0","value":-11},"value":-6},"labelExpr":"datum.value%2==0?datum.label:''","labelFontSize":22,"labelPadding":22,"title":"Energy of Neutrons (MeV)","titleX":305,"titleY":55,"titleAlign":"center","titleBaseline":"middle"}},
   "y":{"field":"v","type":"quantitative","scale":{"type":"log","domain":[0.0002,1],"nice":false},"axis":{"tickColor":"black","tickOpacity":1,"tickWidth":1.5,"values":[0.0002,0.0003,0.0004,0.0005,0.0006,0.0007,0.0008,0.0009,0.001,0.002,0.003,0.004,0.005,0.006,0.007,0.008,0.009,0.01,0.02,0.03,0.04,0.05,0.06,0.07,0.08,0.09,0.1,0.2,0.3,0.4,0.5,0.6,0.7,0.8,0.9,1],"tickSize":{"condition":{"test":"datum.value==0.001||datum.value==0.01||datum.value==0.1||datum.value==1","value":-16},"value":-7},"labels":false,"title":null}},
   "color":{"field":"c","type":"nominal","scale":{"domain":["F2","F1","CN","T"],"range":["#00ff00","#0000ff","#ff0000","#000000"]},"legend":null},
   "strokeDash":{"field":"c","type":"nominal","scale":{"domain":["F2","F1","CN","T"],"range":[[2,7],[22,6,2,6],[14,7],[1,0]]},"legend":null}}},
 {"data":{"name":"pts"},"transform":[{"filter":"datum.p==6"}],"mark":{"type":"errorbar","color":"black","ticks":true,"size":16,"thickness":1.5},
  "encoding":{"x":{"field":"E","type":"quantitative","axis":null},"y":{"field":"v","type":"quantitative","axis":null},"yError":{"field":"e"}}},
 {"data":{"values":[{}]},"layer":[
  {"encoding":{"x":{"datum":1.594,"axis":null},"y":{"datum":0.29,"axis":null}},"layer":[{"mark":{"type":"text","text":"θ"}},{"mark":{"type":"text","text":"n","fontSize":15,"dx":12.5,"dy":8}},{"mark":{"type":"text","text":"= 144","dx":28}},{"mark":{"type":"text","text":"0","fontSize":14,"dx":82,"dy":-11}}]},
  {"encoding":{"x":{"datum":5.088,"axis":null},"y":{"datum":0.265,"axis":null}},"layer":[{"mark":{"type":"text","text":"θ"}},{"mark":{"type":"text","text":"nf","fontSize":15,"dx":12.5,"dy":8}},{"mark":{"type":"text","text":"1","fontSize":11,"dx":25.5,"dy":14}},{"mark":{"type":"text","text":"=104","dx":41}},{"mark":{"type":"text","text":"0","fontSize":14,"dx":89,"dy":-11}}]},
  {"encoding":{"x":{"datum":5.018,"axis":null},"y":{"datum":0.0491,"axis":null}},"layer":[{"mark":{"type":"text","text":"θ"}},{"mark":{"type":"text","text":"nf","fontSize":15,"dx":12.5,"dy":8}},{"mark":{"type":"text","text":"2","fontSize":11,"dx":25.5,"dy":14}},{"mark":{"type":"text","text":"=84.1","dx":41}},{"mark":{"type":"text","text":"0","fontSize":14,"dx":95,"dy":-11}}]}
 ]},
 {"data":{"name":"pts"},"transform":[{"filter":"datum.p==6"}],"mark":{"type":"point","shape":"square","filled":true,"color":"black","size":121,"opacity":1},
  "encoding":{"x":{"field":"E","type":"quantitative","axis":{"tickColor":"black","tickOpacity":1,"tickWidth":1.5,"orient":"top","values":[1,2,3,4,5,6,7,8,9],"tickSize":{"condition":{"test":"datum.value%2==0","value":-11},"value":-6},"labels":false,"title":null}},
   "y":{"field":"v","type":"quantitative","axis":{"tickColor":"black","tickOpacity":1,"tickWidth":1.5,"orient":"right","values":[0.0002,0.0003,0.0004,0.0005,0.0006,0.0007,0.0008,0.0009,0.001,0.002,0.003,0.004,0.005,0.006,0.007,0.008,0.009,0.01,0.02,0.03,0.04,0.05,0.06,0.07,0.08,0.09,0.1,0.2,0.3,0.4,0.5,0.6,0.7,0.8,0.9,1],"tickSize":{"condition":{"test":"datum.value==0.001||datum.value==0.01||datum.value==0.1||datum.value==1","value":-16},"value":-7},"labels":false,"title":null}}}}
]},
{"width":310,"height":302,"resolve":{"axis":{"x":"independent","y":"independent"}},"layer":[
 {"data":{"name":"cur"},"transform":[{"filter":"datum.p==7"}],"mark":{"type":"line","strokeWidth":2,"clip":true},
  "encoding":{"x":{"field":"E","type":"quantitative","scale":{"domain":[1,9],"nice":false,"zero":false},"axis":{"tickColor":"black","tickOpacity":1,"tickWidth":1.5,"values":[1,2,3,4,5,6,7,8,9],"tickSize":{"condition":{"test":"datum.value%2==0","value":-11},"value":-6},"labelExpr":"datum.value%2==0?datum.label:''","labelFontSize":22,"labelPadding":22,"title":null}},
   "y":{"field":"v","type":"quantitative","scale":{"type":"log","domain":[0.0002,1],"nice":false},"axis":{"tickColor":"black","tickOpacity":1,"tickWidth":1.5,"values":[0.0002,0.0003,0.0004,0.0005,0.0006,0.0007,0.0008,0.0009,0.001,0.002,0.003,0.004,0.005,0.006,0.007,0.008,0.009,0.01,0.02,0.03,0.04,0.05,0.06,0.07,0.08,0.09,0.1,0.2,0.3,0.4,0.5,0.6,0.7,0.8,0.9,1],"tickSize":{"condition":{"test":"datum.value==0.001||datum.value==0.01||datum.value==0.1||datum.value==1","value":-16},"value":-7},"labels":false,"title":null}},
   "color":{"field":"c","type":"nominal","scale":{"domain":["F2","F1","CN","T"],"range":["#00ff00","#0000ff","#ff0000","#000000"]},"legend":null},
   "strokeDash":{"field":"c","type":"nominal","scale":{"domain":["F2","F1","CN","T"],"range":[[2,7],[22,6,2,6],[14,7],[1,0]]},"legend":null}}},
 {"data":{"name":"pts"},"transform":[{"filter":"datum.p==7"}],"mark":{"type":"errorbar","color":"black","ticks":true,"size":16,"thickness":1.5},
  "encoding":{"x":{"field":"E","type":"quantitative","axis":null},"y":{"field":"v","type":"quantitative","axis":null},"yError":{"field":"e"}}},
 {"data":{"values":[{}]},"layer":[
  {"encoding":{"x":{"datum":2.161,"axis":null},"y":{"datum":0.265,"axis":null}},"layer":[{"mark":{"type":"text","text":"θ"}},{"mark":{"type":"text","text":"n","fontSize":15,"dx":12.5,"dy":8}},{"mark":{"type":"text","text":"= 144","dx":28}},{"mark":{"type":"text","text":"0","fontSize":14,"dx":82,"dy":-11}}]},
  {"encoding":{"x":{"datum":1.56,"axis":null},"y":{"datum":0.00258,"axis":null}},"layer":[{"mark":{"type":"text","text":"θ"}},{"mark":{"type":"text","text":"nf","fontSize":15,"dx":12.5,"dy":8}},{"mark":{"type":"text","text":"1","fontSize":11,"dx":25.5,"dy":14}},{"mark":{"type":"text","text":"=176","dx":41}},{"mark":{"type":"text","text":"0","fontSize":14,"dx":89,"dy":-11}}]},
  {"encoding":{"x":{"datum":2.376,"axis":null},"y":{"datum":0.000662,"axis":null}},"layer":[{"mark":{"type":"text","text":"θ"}},{"mark":{"type":"text","text":"nf","fontSize":15,"dx":12.5,"dy":8}},{"mark":{"type":"text","text":"2","fontSize":11,"dx":25.5,"dy":14}},{"mark":{"type":"text","text":"=12.1","dx":41}},{"mark":{"type":"text","text":"0","fontSize":14,"dx":95,"dy":-11}}]}
 ]},
 {"data":{"name":"pts"},"transform":[{"filter":"datum.p==7"}],"mark":{"type":"point","shape":"square","filled":true,"color":"black","size":121,"opacity":1},
  "encoding":{"x":{"field":"E","type":"quantitative","axis":{"tickColor":"black","tickOpacity":1,"tickWidth":1.5,"orient":"top","values":[1,2,3,4,5,6,7,8,9],"tickSize":{"condition":{"test":"datum.value%2==0","value":-11},"value":-6},"labels":false,"title":null}},
   "y":{"field":"v","type":"quantitative","axis":{"tickColor":"black","tickOpacity":1,"tickWidth":1.5,"orient":"right","values":[0.0002,0.0003,0.0004,0.0005,0.0006,0.0007,0.0008,0.0009,0.001,0.002,0.003,0.004,0.005,0.006,0.007,0.008,0.009,0.01,0.02,0.03,0.04,0.05,0.06,0.07,0.08,0.09,0.1,0.2,0.3,0.4,0.5,0.6,0.7,0.8,0.9,1],"tickSize":{"condition":{"test":"datum.value==0.001||datum.value==0.01||datum.value==0.1||datum.value==1","value":-16},"value":-7},"labels":false,"title":null}}}}
]},
{"width":310,"height":302,"resolve":{"axis":{"x":"independent","y":"independent"}},"layer":[
 {"data":{"name":"cur"},"transform":[{"filter":"datum.p==8"}],"mark":{"type":"line","strokeWidth":2,"clip":true},
  "encoding":{"x":{"field":"E","type":"quantitative","scale":{"domain":[1,9],"nice":false,"zero":false},"axis":{"tickColor":"black","tickOpacity":1,"tickWidth":1.5,"values":[1,2,3,4,5,6,7,8,9],"tickSize":{"condition":{"test":"datum.value%2==0","value":-11},"value":-6},"labelExpr":"datum.value%2==0?datum.label:''","labelFontSize":22,"labelPadding":22,"title":null}},
   "y":{"field":"v","type":"quantitative","scale":{"type":"log","domain":[0.0002,1],"nice":false},"axis":{"tickColor":"black","tickOpacity":1,"tickWidth":1.5,"values":[0.0002,0.0003,0.0004,0.0005,0.0006,0.0007,0.0008,0.0009,0.001,0.002,0.003,0.004,0.005,0.006,0.007,0.008,0.009,0.01,0.02,0.03,0.04,0.05,0.06,0.07,0.08,0.09,0.1,0.2,0.3,0.4,0.5,0.6,0.7,0.8,0.9,1],"tickSize":{"condition":{"test":"datum.value==0.001||datum.value==0.01||datum.value==0.1||datum.value==1","value":-16},"value":-7},"labels":false,"title":null}},
   "color":{"field":"c","type":"nominal","scale":{"domain":["F2","F1","CN","T"],"range":["#00ff00","#0000ff","#ff0000","#000000"]},"legend":null},
   "strokeDash":{"field":"c","type":"nominal","scale":{"domain":["F2","F1","CN","T"],"range":[[2,7],[22,6,2,6],[14,7],[1,0]]},"legend":null}}},
 {"data":{"name":"pts"},"transform":[{"filter":"datum.p==8"}],"mark":{"type":"errorbar","color":"black","ticks":true,"size":16,"thickness":1.5},
  "encoding":{"x":{"field":"E","type":"quantitative","axis":null},"y":{"field":"v","type":"quantitative","axis":null},"yError":{"field":"e"}}},
 {"data":{"values":[{}]},"layer":[
  {"encoding":{"x":{"datum":2.548,"axis":null},"y":{"datum":0.252,"axis":null}},"layer":[{"mark":{"type":"text","text":"θ"}},{"mark":{"type":"text","text":"n","fontSize":15,"dx":12.5,"dy":8}},{"mark":{"type":"text","text":"= 126","dx":28}},{"mark":{"type":"text","text":"0","fontSize":14,"dx":82,"dy":-11}}]},
  {"encoding":{"x":{"datum":5.689,"axis":null},"y":{"datum":0.265,"axis":null}},"layer":[{"mark":{"type":"text","text":"θ"}},{"mark":{"type":"text","text":"nf","fontSize":15,"dx":12.5,"dy":8}},{"mark":{"type":"text","text":"1","fontSize":11,"dx":25.5,"dy":14}},{"mark":{"type":"text","text":"=166","dx":41}},{"mark":{"type":"text","text":"0","fontSize":14,"dx":89,"dy":-11}}]},
  {"encoding":{"x":{"datum":5.818,"axis":null},"y":{"datum":0.0748,"axis":null}},"layer":[{"mark":{"type":"text","text":"θ"}},{"mark":{"type":"text","text":"nf","fontSize":15,"dx":12.5,"dy":8}},{"mark":{"type":"text","text":"2","fontSize":11,"dx":25.5,"dy":14}},{"mark":{"type":"text","text":"=5.9","dx":41}},{"mark":{"type":"text","text":"0","fontSize":14,"dx":83,"dy":-11}}]}
 ]},
 {"data":{"name":"pts"},"transform":[{"filter":"datum.p==8"}],"mark":{"type":"point","shape":"square","filled":true,"color":"black","size":121,"opacity":1},
  "encoding":{"x":{"field":"E","type":"quantitative","axis":{"tickColor":"black","tickOpacity":1,"tickWidth":1.5,"orient":"top","values":[1,2,3,4,5,6,7,8,9],"tickSize":{"condition":{"test":"datum.value%2==0","value":-11},"value":-6},"labels":false,"title":null}},
   "y":{"field":"v","type":"quantitative","axis":{"tickColor":"black","tickOpacity":1,"tickWidth":1.5,"orient":"right","values":[0.0002,0.0003,0.0004,0.0005,0.0006,0.0007,0.0008,0.0009,0.001,0.002,0.003,0.004,0.005,0.006,0.007,0.008,0.009,0.01,0.02,0.03,0.04,0.05,0.06,0.07,0.08,0.09,0.1,0.2,0.3,0.4,0.5,0.6,0.7,0.8,0.9,1],"tickSize":{"condition":{"test":"datum.value==0.001||datum.value==0.01||datum.value==0.1||datum.value==1","value":-16},"value":-7},"labels":false,"title":null}}}}
]}
]
}
